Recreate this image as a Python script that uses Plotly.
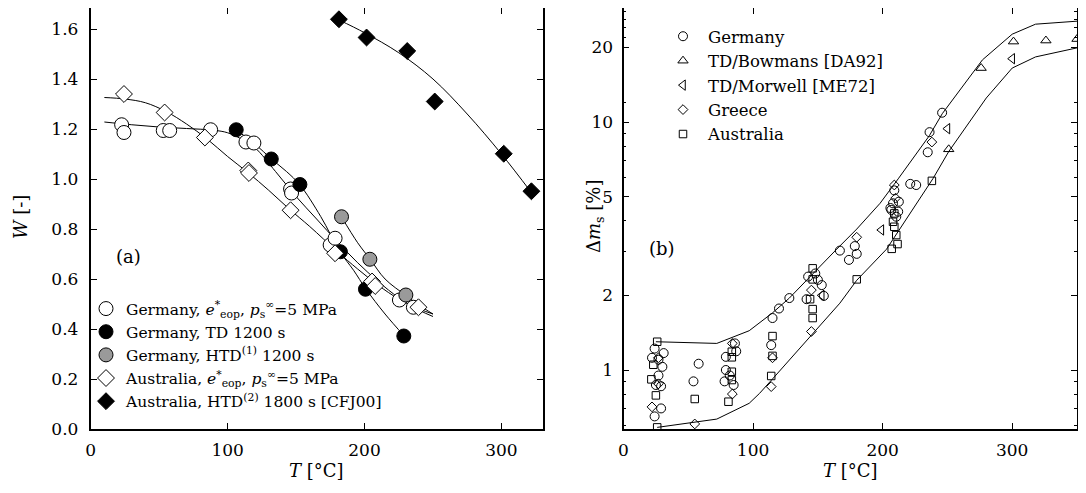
import math
import plotly.graph_objects as go

# ---------------- Left panel (a): W vs T ----------------
ge_eop_T = [22.6, 24.3, 53.0, 57.7, 87.6, 113.4, 119.2, 146.0, 146.7, 174.9, 178.5, 225.5, 235.7]
ge_eop_W = [1.217, 1.186, 1.194, 1.194, 1.197, 1.148, 1.144, 0.960, 0.944, 0.736, 0.763, 0.516, 0.487]
ge_td_T = [106.3, 131.9, 152.8, 182.4, 200.7, 228.7]
ge_td_W = [1.197, 1.080, 0.978, 0.709, 0.559, 0.372]
ge_htd_T = [183.2, 203.9, 230.2]
ge_htd_W = [0.849, 0.679, 0.536]
au_eop_T = [24.3, 54.0, 83.4, 115.1, 115.6, 146.0, 178.5, 205.5, 207.8, 239.4]
au_eop_W = [1.340, 1.266, 1.166, 1.034, 1.024, 0.875, 0.703, 0.590, 0.572, 0.487]
au_htd_T = [181.3, 201.5, 231.2, 251.3, 301.7, 321.9]
au_htd_W = [1.639, 1.566, 1.512, 1.310, 1.101, 0.951]

# fitted curves
fit_ge_eop_T = [10, 30, 50, 70, 90, 100, 110, 120, 135, 150, 165, 180, 195, 210, 225, 240, 250]
fit_ge_eop_W = [1.228, 1.217, 1.208, 1.202, 1.195, 1.185, 1.16, 1.125, 1.03, 0.93, 0.84, 0.75, 0.665, 0.59, 0.525, 0.475, 0.45]
fit_au_eop_T = [10, 25, 40, 55, 70, 85, 100, 115, 130, 145, 160, 180, 195, 210, 225, 240, 250]
fit_au_eop_W = [1.326, 1.32, 1.305, 1.27, 1.22, 1.16, 1.09, 1.025, 0.955, 0.88, 0.81, 0.71, 0.64, 0.575, 0.52, 0.48, 0.46]
fit_ge_td_T = [106, 120, 132, 143, 153, 168, 182, 192, 201, 215, 229]
fit_ge_td_W = [1.197, 1.14, 1.08, 1.03, 0.975, 0.85, 0.71, 0.635, 0.56, 0.46, 0.372]
fit_ge_htd_T = [183, 195, 204, 215, 230, 240, 250]
fit_ge_htd_W = [0.85, 0.745, 0.68, 0.60, 0.535, 0.495, 0.46]
fit_au_htd_T = [181, 200, 225, 250, 275, 300, 322]
fit_au_htd_W = [1.637, 1.585, 1.505, 1.40, 1.26, 1.10, 0.945]

# ---------------- Right panel (b): Δm_s vs T ----------------
germany_T = [24, 31, 27, 30, 29, 25, 29, 24, 27, 22, 58, 54,
             86, 79, 87, 79, 78, 85, 82, 114, 115, 120, 128,
             142.5, 150, 141.3, 154.6, 148, 153, 167, 174, 180, 178.5,
             209, 212.5, 208, 206.7, 212, 210.5, 206, 221.3, 225.9, 234.8, 236.2, 245.9]
germany_v = [1.22, 1.17, 1.10, 1.03, 0.86, 0.87, 0.70, 0.65, 0.95, 1.12, 1.06, 0.90,
             1.28, 1.13, 1.19, 1.00, 0.90, 0.87, 0.95, 1.26, 1.62, 1.77, 1.95,
             2.38, 2.31, 1.93, 1.99, 2.45, 2.20, 3.03, 2.78, 2.94, 3.16,
             5.30, 4.77, 4.70, 4.42, 4.35, 4.15, 4.50, 5.63, 5.57, 7.55, 9.10, 10.9]
bowmans_T = [251, 276, 301, 326, 350]
bowmans_v = [7.76, 16.5, 21.1, 21.3, 21.6]
morwell_T = [153, 199, 250, 300]
morwell_v = [2.00, 3.67, 9.40, 18.0]
greece_T = [22, 27, 27, 55, 84, 84, 114, 115, 145, 145, 180, 209, 210, 238]
greece_v = [0.71, 0.88, 1.12, 0.606, 1.28, 0.80, 0.857, 1.12, 2.10, 1.43, 3.43, 5.57, 4.93, 8.30]
australia_T = [26, 23, 21.5, 25, 26, 55, 83.6, 83.6, 83.6, 83.6, 81, 115, 115, 114,
               146, 146, 144, 146, 146, 180, 209, 208, 209, 210.5, 211.5, 207, 238]
australia_v = [1.30, 1.05, 0.917, 0.79, 0.587, 0.764, 1.185, 1.125, 0.984, 0.911, 0.745, 1.37, 1.14, 0.946,
               2.57, 2.32, 1.93, 1.76, 1.62, 2.32, 4.28, 3.96, 3.78, 3.50, 3.22, 3.08, 5.79]

upper_T = [25, 72, 97, 105, 115, 128, 145, 164, 180, 198, 212, 236, 246, 262, 277, 300, 318, 350]
upper_v = [1.30, 1.28, 1.44, 1.55, 1.70, 1.95, 2.42, 3.05, 3.70, 4.70, 5.90, 8.80, 10.8, 14.0, 17.8, 22.6, 24.8, 25.5]
lower_T = [26, 72, 97, 105, 115, 145, 152, 167, 180, 203, 239, 251, 280, 300, 318, 350]
lower_v = [0.587, 0.634, 0.734, 0.805, 0.92, 1.38, 1.52, 1.86, 2.30, 3.07, 5.93, 7.60, 12.5, 16.5, 18.3, 19.9]

W_ticks = [0.0, 0.2, 0.4, 0.6, 0.8, 1.0, 1.2, 1.4, 1.6]
T_ticks = [0, 100, 200, 300]
dm_ticks = [1, 2, 5, 10, 20]
dm_minor = [0.6, 0.7, 0.8, 0.9, 3, 4, 6, 7, 8, 9, 12, 22, 24, 26, 28]

FONT = "DejaVu Serif"
OFF = 8                      # page body margin
FW, FH = 1086 - OFF, 493 - OFF


def px(p):
    return (p - OFF) / FW


def py(p):
    return 1 - (p - OFF) / FH


fig = go.Figure()

# curves (left)
for tx, wy in [(fit_ge_eop_T, fit_ge_eop_W), (fit_au_eop_T, fit_au_eop_W), (fit_ge_td_T, fit_ge_td_W),
               (fit_ge_htd_T, fit_ge_htd_W), (fit_au_htd_T, fit_au_htd_W)]:
    fig.add_trace(go.Scatter(x=tx, y=wy, mode="lines", line=dict(color="black", width=1, shape="spline"),
                             showlegend=False, hoverinfo="skip"))

eop = "<i>e</i><sup>*</sup><sub>eop</sub>, <i>p</i><sub>s</sub><sup>∞</sup>=5 MPa"
left_series = [
    (ge_eop_T, ge_eop_W, "circle", "white", 14, "Germany, " + eop),
    (ge_td_T, ge_td_W, "circle", "black", 14, "Germany, TD 1200 s"),
    (ge_htd_T, ge_htd_W, "circle", "#9a9a9a", 14, "Germany, HTD<sup>(1)</sup> 1200 s"),
    (au_eop_T, au_eop_W, "diamond", "white", 13, "Australia, " + eop),
    (au_htd_T, au_htd_W, "diamond", "black", 13, "Australia, HTD<sup>(2)</sup> 1800 s [CFJ00]"),
]
for tx, wy, sym, col, sz, name in left_series:
    fig.add_trace(go.Scatter(x=tx, y=wy, mode="markers", name=name, legend="legend",
                             marker=dict(symbol=sym, size=sz, color=col, line=dict(color="black", width=1))))

# curves (right)
for tx, vy in [(upper_T, upper_v), (lower_T, lower_v)]:
    fig.add_trace(go.Scatter(x=tx, y=vy, mode="lines", xaxis="x2", yaxis="y2",
                             line=dict(color="black", width=1), showlegend=False, hoverinfo="skip"))

right_series = [
    (germany_T, germany_v, "circle-open", 9, "Germany"),
    (bowmans_T, bowmans_v, "triangle-up-open", 9, "TD/Bowmans [DA92]"),
    (morwell_T, morwell_v, "triangle-left-open", 9, "TD/Morwell [ME72]"),
    (greece_T, greece_v, "diamond-open", 7.5, "Greece"),
    (australia_T, australia_v, "square-open", 7.5, "Australia"),
]
for tx, vy, sym, sz, name in right_series:
    fig.add_trace(go.Scatter(x=tx, y=vy, mode="markers", name=name, xaxis="x2", yaxis="y2", legend="legend2",
                             marker=dict(symbol=sym, size=sz, color="black", line=dict(color="black", width=1))))

axis_common = dict(showline=True, linewidth=1.8, linecolor="black", mirror="ticks", ticks="inside",
                   tickcolor="black", tickwidth=1, showgrid=False, zeroline=False, automargin=False,
                   tickfont=dict(family=FONT, size=17, color="black"))

top_p, bot_p = 8, 429          # page pixel rows of plot top / bottom
W_per_px = 1 / 250.0
log_per_px = 1 / 248.0
y1_max = (bot_p - top_p) * W_per_px
y2_lo = -(bot_p - 370) * log_per_px
y2_hi = (370 - top_p) * log_per_px

fig.update_layout(
    width=FW, height=FH, margin=dict(l=0, r=0, t=0, b=0),
    paper_bgcolor="white", plot_bgcolor="white",
    font=dict(family=FONT, size=15, color="black"),
    xaxis=dict(domain=[px(90.7), px(542.5)], range=[0, 330], tickvals=T_ticks, ticklen=6,
               ticklabelstandoff=5, anchor="y", **axis_common),
    yaxis=dict(domain=[py(bot_p), py(top_p)], range=[0, y1_max], tickvals=W_ticks, tickformat=".1f", ticklen=6,
               ticklabelstandoff=7, anchor="x", **axis_common),
    xaxis2=dict(domain=[px(623.5), px(1077)], range=[0, 350], tickvals=T_ticks, ticklen=6,
                ticklabelstandoff=5, anchor="y2", **axis_common),
    yaxis2=dict(domain=[py(bot_p), py(top_p)], type="log", range=[y2_lo, y2_hi],
                tickvals=dm_ticks, ticktext=[str(v) for v in dm_ticks], ticklen=6, ticklabelstandoff=5,
                minor=dict(tickvals=dm_minor, ticks="inside", ticklen=3, tickcolor="black", tickwidth=1),
                anchor="x2", **axis_common),
    legend=dict(x=px(86), y=py(292), xanchor="left", yanchor="top", bgcolor="rgba(0,0,0,0)",
                font=dict(family=FONT, size=15.5), tracegroupgap=0, itemwidth=30),
    legend2=dict(x=px(658), y=py(19), xanchor="left", yanchor="top", bgcolor="rgba(0,0,0,0)",
                 font=dict(family=FONT, size=16.5), tracegroupgap=0, itemwidth=40),
    showlegend=True,
    annotations=[
        dict(text="(a)", x=px(128), y=py(257), xref="paper", yref="paper", showarrow=False,
             xanchor="center", yanchor="middle", font=dict(family=FONT, size=18)),
        dict(text="(b)", x=px(662), y=py(248), xref="paper", yref="paper", showarrow=False,
             xanchor="center", yanchor="middle", font=dict(family=FONT, size=18)),
        dict(text="<i>T</i> [°C]", x=px(316), y=py(470), xref="paper", yref="paper", showarrow=False,
             xanchor="center", yanchor="middle", font=dict(family=FONT, size=18)),
        dict(text="<i>T</i> [°C]", x=px(850), y=py(470), xref="paper", yref="paper", showarrow=False,
             xanchor="center", yanchor="middle", font=dict(family=FONT, size=18)),
        dict(text="<i>W</i> [-]", x=px(20), y=py(217), xref="paper", yref="paper", showarrow=False,
             xanchor="center", yanchor="middle", textangle=-90, font=dict(family=FONT, size=18)),
        dict(text="Δ<i>m</i><sub>s</sub> [%]", x=px(595), y=py(217), xref="paper", yref="paper",
             showarrow=False, xanchor="center", yanchor="middle", textangle=-90,
             font=dict(family=FONT, size=18)),
    ],
)

fig.write_html("out.html")
